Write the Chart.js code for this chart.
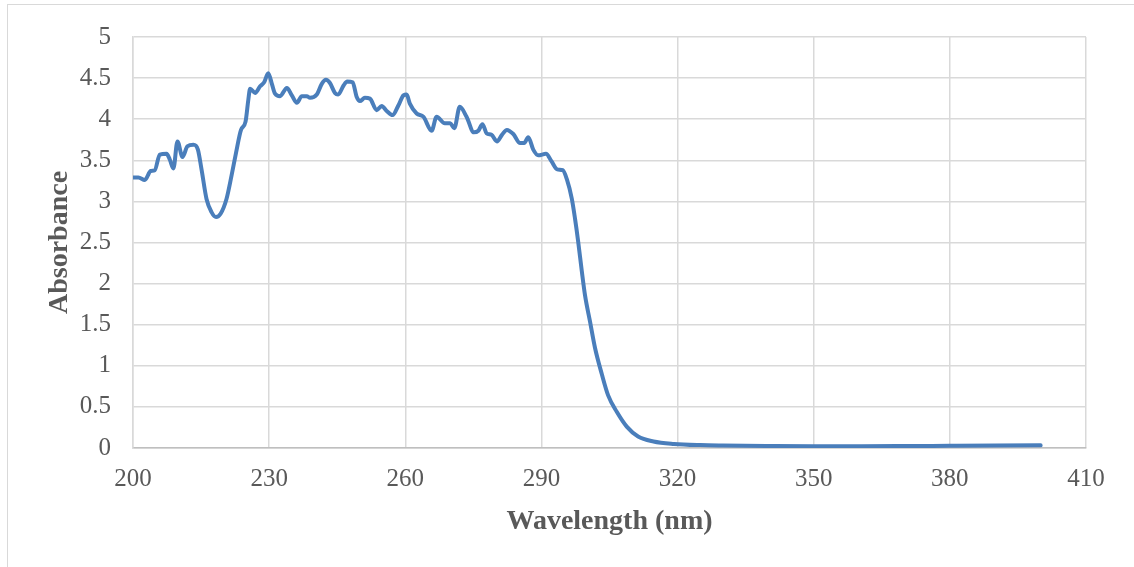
<!DOCTYPE html>
<html>
<head>
<meta charset="utf-8">
<script src="https://cdn.jsdelivr.net/npm/chart.js@4.4.1/dist/chart.umd.min.js"></script>
<style>
  html, body { margin: 0; padding: 0; background: #fff; overflow: hidden; }
  #wrap { position: relative; width: 1134px; height: 567px; }
  #frame { position: absolute; left: 7px; top: 4px; width: 1130px; height: 620px;
           border: 1.5px solid #d9d9d9; box-sizing: border-box; pointer-events: none; }
  canvas { position: absolute; left: 0; top: 0; }
</style>
</head>
<body>
<div id="wrap">
  <div id="frame"></div>
  <canvas id="c" width="1134" height="567"></canvas>
</div>
<script>
// Wavelength (nm)
const wavelength = [
  200, 201.2, 202.6, 203.9, 204.8, 205.9, 207.4, 208.1, 208.9, 209.8,
  210.9, 212.0, 213.3, 214.3, 215.1, 216.2, 217.3, 218.3, 219.3, 220.6,
  221.7, 222.7, 223.8, 224.8, 225.4, 225.8, 226.9, 228.0, 228.9, 229.8,
  230.6, 231.3, 232.4, 233.9, 235.0, 236.1, 237.2, 238.3, 239.0, 240.5,
  241.6, 242.5, 243.4, 244.5, 245.2, 246.4, 247.2, 248.4, 249.3, 250.0,
  251.1, 252.2, 253.7, 254.8, 255.9, 257.2, 258.5, 259.6, 260.3, 261.0,
  262.5, 264.0, 265.8, 266.9, 268.7, 269.9, 270.8, 272.0, 273.5, 275.1,
  276.1, 277.0, 277.9, 279.0, 280.2, 281.3, 282.4, 283.8, 285.3, 286.2,
  287.1, 288.2, 289.3, 291.0, 292.2, 293.5, 294.7, 295.6, 296.7, 297.4,
  298.1, 298.9, 299.6, 300.7, 301.8, 303.3, 304.7, 306.6, 308.8, 311.3,
  314.7, 319.2, 325, 330, 340, 350, 360, 370, 380, 390, 400
];
// Absorbance
const absorbance = [
  3.29, 3.29, 3.26, 3.37, 3.38, 3.57, 3.58, 3.51, 3.40, 3.73,
  3.54, 3.67, 3.69, 3.63, 3.39, 3.03, 2.87, 2.81, 2.85, 3.03,
  3.31, 3.59, 3.87, 3.97, 4.23, 4.37, 4.32, 4.40, 4.45, 4.56,
  4.43, 4.31, 4.28, 4.38, 4.29, 4.20, 4.28, 4.28, 4.26, 4.30,
  4.43, 4.48, 4.44, 4.32, 4.30, 4.41, 4.46, 4.45, 4.27, 4.22,
  4.26, 4.25, 4.11, 4.16, 4.10, 4.05, 4.17, 4.29, 4.30, 4.19,
  4.07, 4.03, 3.86, 4.03, 3.95, 3.95, 3.89, 4.15, 4.03, 3.84,
  3.86, 3.94, 3.83, 3.81, 3.73, 3.81, 3.87, 3.82, 3.71, 3.71,
  3.78, 3.63, 3.56, 3.58, 3.49, 3.39, 3.38, 3.27, 3.03, 2.79,
  2.51, 2.15, 1.86, 1.54, 1.22, 0.90, 0.64, 0.44, 0.26, 0.14,
  0.08, 0.05, 0.035, 0.03, 0.025, 0.022, 0.022, 0.024, 0.027, 0.03, 0.032
];
const xTicks = [200, 230, 260, 290, 320, 350, 380, 410];
const yTicks = [0, 0.5, 1, 1.5, 2, 2.5, 3, 3.5, 4, 4.5, 5];

const points = wavelength.map((w, i) => ({ x: w, y: absorbance[i] }));
const tickFont = { family: "'Liberation Serif', serif", size: 25 };
const titleFont = { family: "'Liberation Serif', serif", size: 28, weight: 'bold' };

new Chart(document.getElementById('c'), {
  type: 'line',
  data: {
    datasets: [{
      data: points,
      borderColor: '#4a7ebb',
      borderWidth: 4,
      pointRadius: 0,
      fill: false,
      cubicInterpolationMode: 'monotone',
      borderCapStyle: 'round',
      borderJoinStyle: 'round'
    }]
  },
  options: {
    responsive: false,
    animation: false,
    events: [],
    layout: { padding: { top: 33, right: 48, left: 0, bottom: 0 } },
    plugins: { legend: { display: false }, tooltip: { enabled: false } },
    scales: {
      x: {
        type: 'linear',
        min: xTicks[0],
        max: xTicks[xTicks.length - 1],
        afterBuildTicks: (s) => { s.ticks = xTicks.map(v => ({ value: v })); },
        afterFit: (s) => { s.height = 119; },
        ticks: { font: tickFont, color: '#595959', padding: 16, maxRotation: 0, autoSkip: false,
                 callback: (v) => String(v) },
        grid: { color: '#d9d9d9', lineWidth: 1.5, drawTicks: false },
        border: { color: '#bfbfbf', width: 1.5 },
        title: { display: true, text: 'Wavelength (nm)', font: titleFont, color: '#595959',
                 padding: { top: 0, bottom: 28 } }
      },
      y: {
        min: 0,
        max: 5,
        afterBuildTicks: (s) => { s.ticks = yTicks.map(v => ({ value: v })); },
        afterFit: (s) => { s.width = 133; },
        ticks: { font: tickFont, color: '#595959', padding: 22, autoSkip: false,
                 callback: (v) => String(v) },
        grid: { color: '#d9d9d9', lineWidth: 1.5, drawTicks: false },
        border: { color: '#d9d9d9', width: 1.5 },
        title: { display: true, text: 'Absorbance', font: titleFont, color: '#595959',
                 padding: { top: 43, bottom: 0 } }
      }
    }
  }
});
</script>
</body>
</html>
